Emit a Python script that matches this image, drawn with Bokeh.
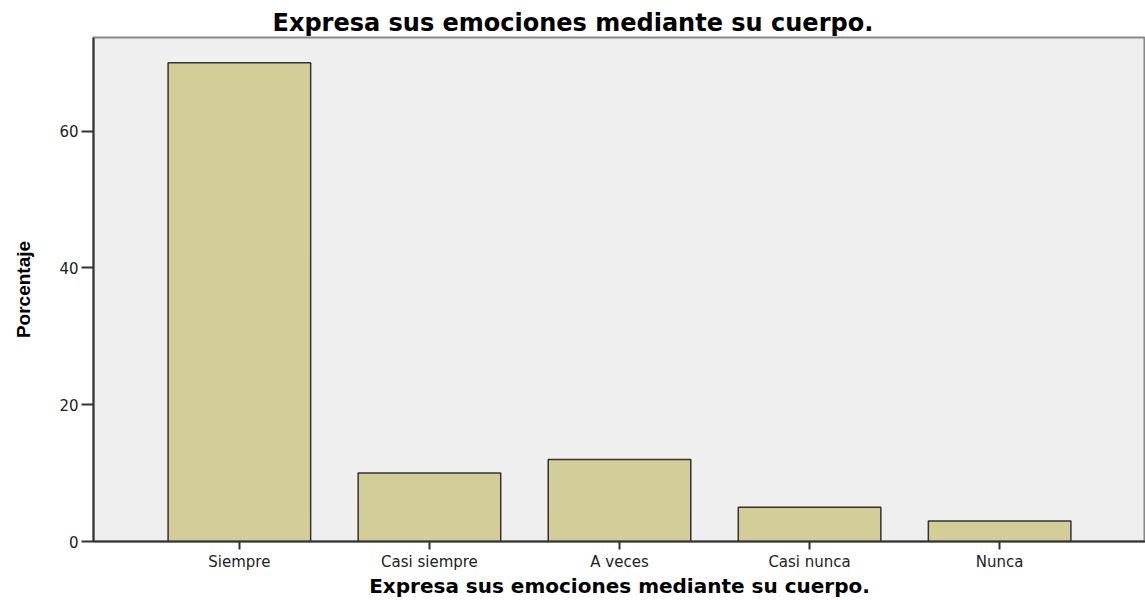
from bokeh.plotting import figure
from bokeh.models import FactorRange, Range1d, FixedTicker, Title, ColumnDataSource
from bokeh.embed import file_html
from bokeh.resources import INLINE

# Data
categories = ["Siempre", "Casi siempre", "A veces", "Casi nunca", "Nunca"]
percentages = [70, 10, 12, 5, 3]
y_ticks = [0, 20, 40, 60]
title_text = "Expresa sus emociones mediante su cuerpo."
x_label = "Expresa sus emociones mediante su cuerpo."
y_label = "Porcentaje"

source = ColumnDataSource(data=dict(cat=categories, pct=percentages))

p = figure(
    width=1145, height=600,
    x_range=FactorRange(factors=categories, range_padding=0.107),
    y_range=Range1d(0, 73.7),
    output_backend="svg", toolbar_location=None,
    min_border_left=93, min_border_right=0, min_border_top=37, min_border_bottom=58,
)

p.vbar(x="cat", top="pct", width=0.75, source=source,
       fill_color="#D3CE97", line_color="#333333", line_width=1.5)

# Title
t = Title(text=title_text, align="left", offset=179, standoff=0,
          vertical_align="middle",
          text_font="DejaVu Sans", text_font_size="24px", text_font_style="bold",
          text_color="#000000")
p.add_layout(t, "above")

p.background_fill_color = "#EFEFEF"
p.border_fill_color = "white"
p.outline_line_color = "#888888"
p.outline_line_width = 2
p.xgrid.visible = False
p.ygrid.visible = False

# Axes
for ax in (p.xaxis[0], p.yaxis[0]):
    ax.axis_line_color = "#333333"
    ax.axis_line_width = 2
    ax.major_tick_line_color = "#333333"
    ax.major_tick_line_width = 2
    ax.major_tick_in = 0
    ax.minor_tick_line_color = None
    ax.major_label_text_font = "DejaVu Sans"
    ax.major_label_text_font_size = "15px"
    ax.major_label_text_color = "#222222"
    ax.major_label_standoff = 3
    ax.axis_label_text_color = "#000000"
    ax.axis_label_text_font_style = "bold"

p.xaxis[0].major_tick_out = 8
p.xaxis[0].axis_label = x_label
p.xaxis[0].axis_label_text_font = "DejaVu Sans"
p.xaxis[0].axis_label_text_font_size = "20px"
p.xaxis[0].axis_label_standoff = 0

p.yaxis[0].major_tick_out = 12
p.yaxis[0].ticker = FixedTicker(ticks=y_ticks)
p.yaxis[0].axis_label = y_label
p.yaxis[0].axis_label_text_font = "Liberation Sans"
p.yaxis[0].axis_label_text_font_size = "19px"
p.yaxis[0].axis_label_standoff = 22

open("out.html", "w").write(file_html(p, INLINE))
